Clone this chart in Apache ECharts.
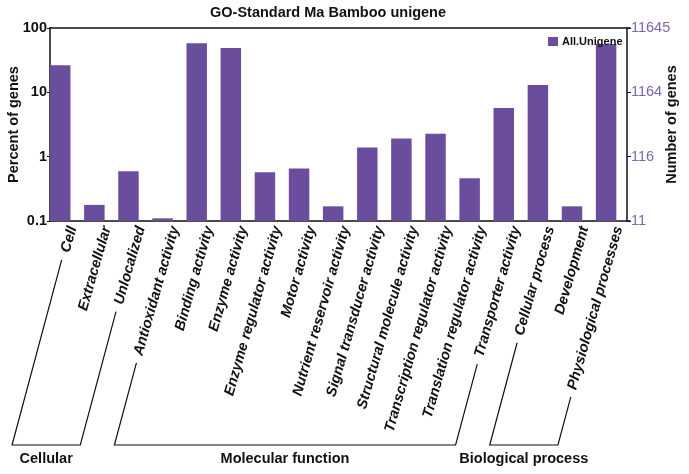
<!DOCTYPE html>
<html><head><meta charset="utf-8">
<script src="https://cdn.jsdelivr.net/npm/echarts@6/dist/echarts.min.js"></script>
<style>html,body{margin:0;padding:0;background:#fff}#c{width:689px;height:474px}</style>
</head><body><div id="c"></div>
<script>
const categories = ['Cell','Extracellular','Unlocalized','Antioxidant activity','Binding activity','Enzyme activity','Enzyme regulator activity','Motor activity','Nutrient reservoir activity','Signal transducer activity','Structural molecule activity','Transcription regulator activity','Translation regulator activity','Transporter activity','Cellular process','Development','Physiological processes'];
const percentValues = [26.3,0.178,0.594,0.110,57.8,48.9,0.573,0.653,0.169,1.39,1.92,2.27,0.462,5.69,13.0,0.169,56.5];
const leftTickLabels = ['0.1','1','10','100'];
const rightTickLabels = ['11','116','1164','11645'];
const groupNames = ['Cellular','Molecular function','Biological process'];
const groupFirst = [0,3,14];
const groupLast = [2,13,16];
const seriesName = 'All.Unigene';
const titleText = 'GO-Standard Ma Bamboo unigene';

const FONT = 'Liberation Sans, Arial, sans-serif';
const BAR = '#6b4d9e';
const RIGHTC = '#7b66a9';
const LABEL_ROT = 74;
const LABEL_SIZE = 14.5;
const LABEL_MARGIN = 4;
const yMin = 0.1, yMax = 100;

const chart = echarts.init(document.getElementById('c'), null, {renderer:'canvas'});
const tickIdx = v => Math.round(Math.log10(v)) + 1;

const option = {
  backgroundColor: '#fff',
  animation: false,
  title: {text: titleText, left: 210, top: 5, padding: 0,
    textStyle: {fontFamily: FONT, fontSize: 14.5, fontWeight: 'bold', color: '#111'}},
  legend: {data: [{name: seriesName, icon: 'rect'}], left: 548, top: 36, padding: 0,
    itemWidth: 10, itemHeight: 9, itemGap: 5,
    textStyle: {fontFamily: FONT, fontSize: 11, fontWeight: 'bold', color: '#111', padding: [0,0,0,-1]}},
  grid: {left: 50, top: 28, width: 580, bottom: 253, containLabel: false, outerBoundsMode: 'none'},
  xAxis: [{
    type: 'category', data: categories, position: 'bottom', boundaryGap: true,
    axisLine: {lineStyle: {color: '#111', width: 1.5}},
    axisTick: {inside: true, length: 4, lineStyle: {color: '#111'}},
    axisLabel: {rotate: LABEL_ROT, interval: 0, margin: LABEL_MARGIN, fontFamily: FONT, fontSize: LABEL_SIZE,
      fontWeight: 'bold', fontStyle: 'italic', color: '#111', verticalAlign: 'top', lineHeight: 12}
  }, {
    type: 'category', data: categories, position: 'top', boundaryGap: true,
    axisLine: {lineStyle: {color: '#111', width: 1.5}},
    axisTick: {inside: true, length: 4, lineStyle: {color: '#111'}},
    axisLabel: {show: false}
  }],
  yAxis: [{
    type: 'log', logBase: 10, min: yMin, max: yMax, position: 'left',
    name: 'Percent of genes', nameLocation: 'middle', nameRotate: 90, nameGap: 29, nameMoveOverlap: false,
    nameTextStyle: {fontFamily: FONT, fontSize: 14.5, fontWeight: 'bold', color: '#111'},
    axisLine: {show: true, lineStyle: {color: '#111', width: 1.5}},
    axisTick: {show: true, inside: false, length: 3, lineStyle: {color: '#111'}},
    minorTick: {show: false},
    splitLine: {show: false},
    axisLabel: {margin: 3, fontFamily: FONT, fontSize: 14.5, fontWeight: 'bold', color: '#111',
      formatter: v => leftTickLabels[tickIdx(v)]}
  }, {
    type: 'log', logBase: 10, min: yMin, max: yMax, position: 'right', offset: -3,
    name: 'Number of genes', nameLocation: 'middle', nameRotate: 90, nameGap: 37, nameMoveOverlap: false,
    nameTextStyle: {fontFamily: FONT, fontSize: 14.5, fontWeight: 'bold', color: '#111'},
    axisLine: {show: true, lineStyle: {color: '#111', width: 1.5}},
    axisTick: {show: true, inside: false, length: 4, lineStyle: {color: '#111'}},
    splitLine: {show: false},
    axisLabel: {margin: 4, fontFamily: FONT, fontSize: 14.5, color: RIGHTC,
      formatter: v => rightTickLabels[tickIdx(v)]}
  }],
  series: [{
    type: 'custom', name: seriesName, xAxisIndex: 0, yAxisIndex: 0,
    itemStyle: {color: BAR},
    encode: {x: 0, y: 1},
    data: categories.map((c, i) => [i, percentValues[i]]),
    renderItem: function (params, api) {
      const i = api.value(0), v = api.value(1);
      const top = api.coord([i, v]);
      const base = api.coord([i, yMin]);
      const band = api.size([1, 0])[0];
      return {type: 'rect',
        shape: {x: top[0] - band / 2, y: top[1], width: band * 0.6, height: base[1] - top[1]},
        style: {fill: BAR}};
    }
  }]
};
chart.setOption(option);

// group brackets, following the direction of the rotated category labels
const ctx = document.createElement('canvas').getContext('2d');
ctx.font = 'italic bold ' + LABEL_SIZE + 'px ' + FONT;
const axisY = chart.convertToPixel({yAxisIndex: 0}, yMin);
const bracketY = axisY + 224;
const lineTan = Math.tan(75 * Math.PI / 180);
const sinR = Math.sin(LABEL_ROT * Math.PI / 180);
function legPoints(idx) {
  const cx = chart.convertToPixel({xAxisIndex: 0}, categories[idx]);
  const L = ctx.measureText(categories[idx]).width;
  const bx = cx - 55;
  const ty = axisY + LABEL_MARGIN + 3.5 + (L + 6) * sinR;
  const tx = bx + (bracketY - ty) / lineTan;
  return {top: [tx, ty], bottom: [bx, bracketY]};
}
const graphics = [];
groupNames.forEach((g, k) => {
  const a = legPoints(groupFirst[k]);
  const b = legPoints(groupLast[k]);
  graphics.push({type: 'polyline', silent: true,
    shape: {points: [a.top, a.bottom, b.bottom, b.top]},
    style: {stroke: '#111', lineWidth: 1.2, fill: null}});
  graphics.push({type: 'text', silent: true,
    x: (a.bottom[0] + b.bottom[0]) / 2, y: bracketY + 14,
    style: {text: g, fontFamily: FONT, fontSize: 14.5, fontWeight: 'bold', fill: '#111',
      align: 'center', verticalAlign: 'middle'}});
});
chart.setOption({graphic: graphics});
</script></body></html>
